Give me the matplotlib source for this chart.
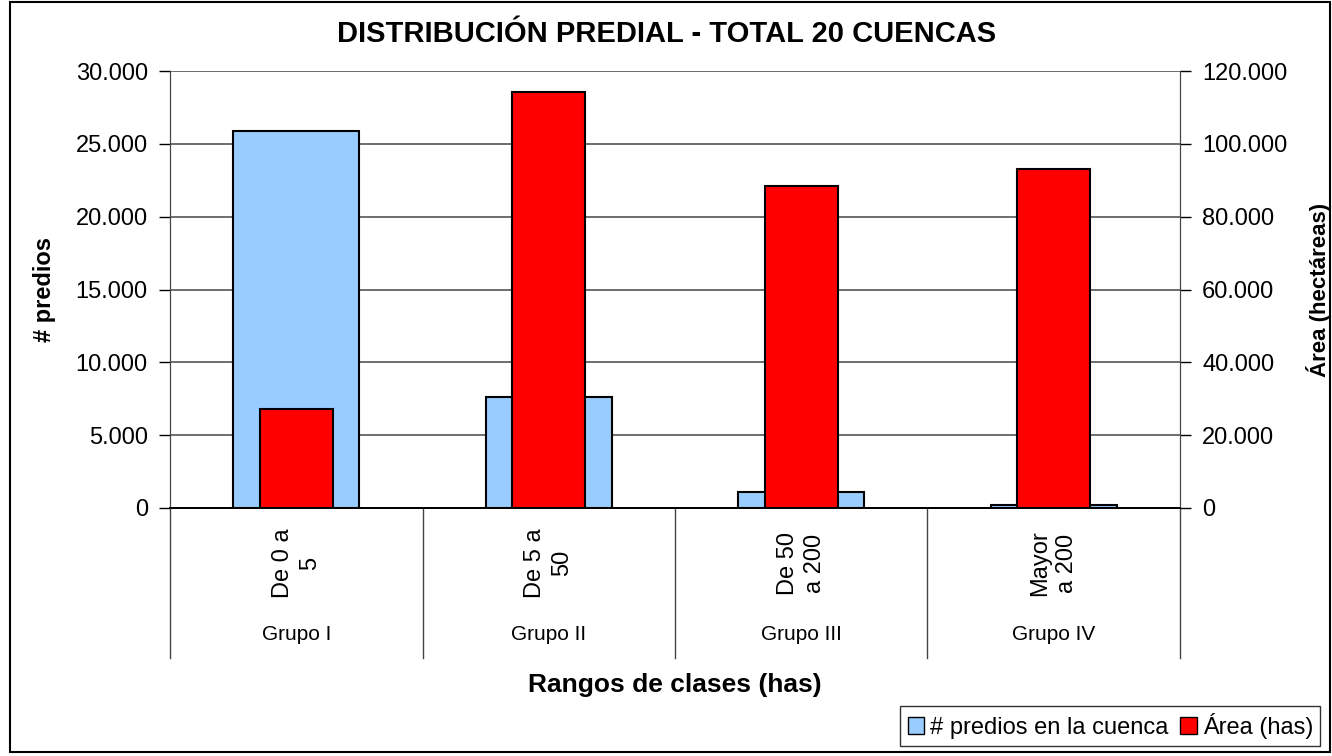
import matplotlib
matplotlib.use('Agg')
import matplotlib.pyplot as plt
from matplotlib.patches import Rectangle, Patch
from matplotlib.ticker import FuncFormatter

# datos
rangos = ['De 0 a\n5', 'De 5 a\n50', 'De 50\na 200', 'Mayor\na 200']
grupos = ['Grupo I', 'Grupo II', 'Grupo III', 'Grupo IV']
predios = [25900, 7640, 1100, 200]
area = [27200, 114200, 88400, 93100]

plt.rcParams['font.family'] = ['Liberation Sans', 'DejaVu Sans']


def miles(v, pos):
    return '{:,}'.format(int(v)).replace(',', '.')


fig = plt.figure(figsize=(13.32, 7.56), dpi=100)
ax = fig.add_axes([170 / 1332, 1 - 508 / 756, 1010 / 1332, 437 / 756])
ax2 = ax.twinx()

x = list(range(len(rangos)))
ax.bar(x, predios, width=0.5, color='#99ccff', edgecolor='black', linewidth=1.5, zorder=2)
ax2.bar(x, area, width=0.29, color='#ff0000', edgecolor='black', linewidth=1.5, zorder=2)

ax.set_xlim(-0.5, len(rangos) - 0.5)
ax.set_ylim(0, 30000)
ax2.set_ylim(0, 120000)
ax.set_yticks(range(0, 30001, 5000))
ax2.set_yticks(range(0, 120001, 20000))
ax.yaxis.set_major_formatter(FuncFormatter(miles))
ax2.yaxis.set_major_formatter(FuncFormatter(miles))
ax.grid(axis='y', color='#555555', linewidth=1.2)
ax.set_axisbelow(True)
ax.set_xticks([])

for a in (ax, ax2):
    a.spines['top'].set_visible(False)
    a.spines['left'].set_color('#444444')
    a.spines['right'].set_color('#444444')
    a.spines['bottom'].set_color('black')
    a.spines['bottom'].set_linewidth(1.3)
    a.tick_params(axis='y', direction='out', length=8, width=1, labelsize=17, pad=8)

ax.set_ylabel('# predios', fontsize=17, fontweight='bold', labelpad=14)
ax2.set_ylabel('Área (hectáreas)', fontsize=16, fontweight='bold', labelpad=13, rotation=90)

# etiquetas de categorias en dos niveles
tr = ax.get_xaxis_transform()
for i, (r, g) in enumerate(zip(rangos, grupos)):
    ax.text(i, -0.126, r, rotation=90, ha='center', va='center', multialignment='center',
            fontsize=17, transform=tr, linespacing=1.3)
    ax.text(i, -0.29, g, ha='center', va='center', fontsize=15, transform=tr)
for b in [i - 0.5 for i in range(len(rangos) + 1)]:
    ax.plot([b, b], [0, -0.343], color='#444444', linewidth=1, transform=tr, clip_on=False)

fig.text(675 / 1332, 1 - 685 / 756, 'Rangos de clases (has)', ha='center', va='center',
         fontsize=19, fontweight='bold')
fig.text(667 / 1332, 1 - 34 / 756, 'DISTRIBUCIÓN PREDIAL - TOTAL 20 CUENCAS', ha='center',
         va='center', fontsize=21, fontweight='bold')

handles = [Patch(facecolor='#99ccff', edgecolor='black'), Patch(facecolor='#ff0000', edgecolor='black')]
leg = fig.legend(handles, ['# predios en la cuenca', 'Área (has)'], ncol=2, fontsize=17,
                 loc='lower right', bbox_to_anchor=(1320 / 1332, 10 / 756), frameon=True,
                 fancybox=False, edgecolor='black', handlelength=0.7, handleheight=0.7,
                 handletextpad=0.25, columnspacing=0.5, borderpad=0.3, borderaxespad=0)
leg.get_frame().set_linewidth(1)

fig.patches.append(Rectangle((10 / 1332, 4 / 756), 1320 / 1332, 750 / 756, transform=fig.transFigure,
                             fill=False, edgecolor='black', linewidth=1.5))

fig.savefig('out.png', dpi=100)
